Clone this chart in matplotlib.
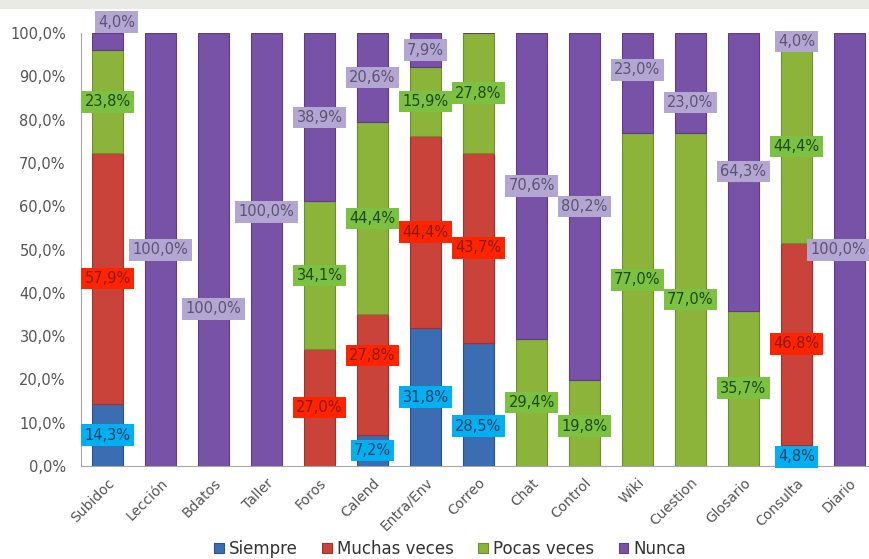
import matplotlib
matplotlib.use("Agg")
import matplotlib.pyplot as plt
from matplotlib.patches import Rectangle
import numpy as np

categories = ["Subidoc", "Lección", "Bdatos", "Taller", "Foros", "Calend", "Entra/Env",
              "Correo", "Chat", "Control", "Wiki", "Cuestion", "Glosario", "Consulta", "Diario"]
series_names = ["Siempre", "Muchas veces", "Pocas veces", "Nunca"]
siempre = [14.3, 0, 0, 0, 0, 7.2, 31.8, 28.5, 0, 0, 0, 0, 0, 4.8, 0]
muchas = [57.9, 0, 0, 0, 27.0, 27.8, 44.4, 43.7, 0, 0, 0, 0, 0, 46.8, 0]
pocas = [23.8, 0, 0, 0, 34.1, 44.4, 15.9, 27.8, 29.4, 19.8, 77.0, 77.0, 35.7, 44.4, 0]
nunca = [4.0, 100.0, 100.0, 100.0, 38.9, 20.6, 7.9, 0, 70.6, 80.2, 23.0, 23.0, 64.3, 4.0, 100.0]
yticks = [0, 10, 20, 30, 40, 50, 60, 70, 80, 90, 100]

# label placement overrides (data-units y position) for labels moved off-centre
label_y = {
    (0, 3): 102.5, (2, 3): 36.3, (3, 3): 58.7, (5, 1): 25.5,
    (7, 0): 9.2, (9, 0): 9.2, (9, 2): 9.2, (10, 2): 43.0, (10, 3): 91.5,
    (11, 3): 84.0, (13, 0): 2.1, (13, 3): 98.0, (12, 2): 18.0, (12, 3): 68.0,
    (1, 3): 49.9, (14, 3): 49.9,
}
# horizontal label shifts (category units)
label_dx = {(0, 3): 0.17, (14, 3): -0.22}

bar_colors = ["#3b6db3", "#c9433a", "#8cb43b", "#7752a7"]
edge_colors = ["#2a5290", "#a0322b", "#6e8f2c", "#5c3d86"]
box_colors = ["#00b0f0", "#ff2400", "#7cc142", "#b4a6d2"]
text_colors = ["#1f3b66", "#8a1a10", "#1d4a10", "#5b5470"]

fig = plt.figure(figsize=(8.7, 5.59), dpi=100)
fig.patches.append(Rectangle((0, 1 - 9 / 559), 1, 9 / 559, transform=fig.transFigure,
                             facecolor="#e9e9e5", edgecolor="none", zorder=0))
ax = fig.add_axes([81 / 870, 1 - 466 / 559, (876 - 81) / 870, (466 - 33) / 559])

data = [siempre, muchas, pocas, nunca]
x = np.arange(len(categories))
bottom = np.zeros(len(categories))
for si, vals in enumerate(data):
    vals = np.array(vals, dtype=float)
    ax.bar(x, vals, 0.58, bottom=bottom, color=bar_colors[si], edgecolor=edge_colors[si],
           linewidth=0.8, label=series_names[si], zorder=2)
    for ci, v in enumerate(vals):
        if v <= 0:
            continue
        yc = label_y.get((ci, si), bottom[ci] + v / 2)
        xc = x[ci] + label_dx.get((ci, si), 0.0)
        txt = f"{v:.1f}".replace(".", ",") + "%"
        ax.text(xc, yc, txt, ha="center", va="center", fontsize=10.5,
                color=text_colors[si], clip_on=False, zorder=5,
                bbox=dict(boxstyle="square,pad=0.22", facecolor=box_colors[si],
                          edgecolor="none"))
    bottom += vals

ax.set_xlim(-0.5, len(categories) - 0.5)
ax.set_ylim(0, 100)
ax.set_yticks(yticks)
ax.set_yticklabels([f"{t:.1f}".replace(".", ",") + "%" for t in yticks],
                   fontsize=10.5, color="#555555")
ax.set_xticks(x)
ax.set_xticklabels(categories, rotation=45, ha="right", rotation_mode="anchor",
                   fontsize=10, color="#555555")
ax.tick_params(axis="y", length=0, pad=11)
ax.tick_params(axis="x", length=0, pad=7)
for s in ["top", "right"]:
    ax.spines[s].set_visible(False)
for s in ["left", "bottom"]:
    ax.spines[s].set_color("#a6a6a6")

leg = fig.legend(loc="center", bbox_to_anchor=(450 / 870, 1 - 549 / 559), ncol=4,
                 frameon=False, fontsize=12, handlelength=0.55, handleheight=0.55,
                 handletextpad=0.3, columnspacing=1.5)
for t in leg.get_texts():
    t.set_color("#333333")

fig.savefig("out.png", dpi=100)
